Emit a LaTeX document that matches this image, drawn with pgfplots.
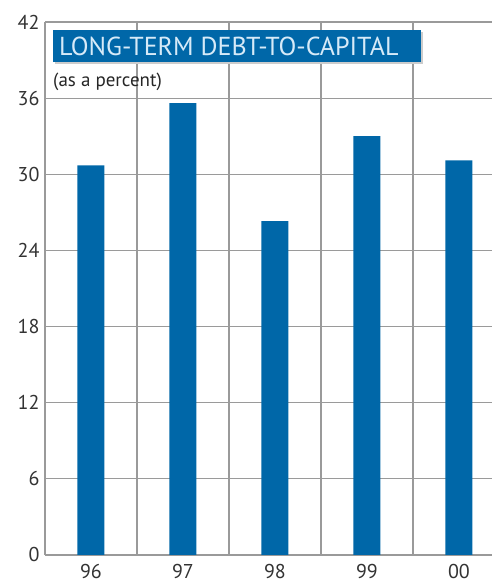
\documentclass[border=0pt]{standalone}
\usepackage{fontspec}
\setmainfont{PT Sans}
\usepackage{pgfplots}
\pgfplotsset{compat=1.18}
\definecolor{barblue}{HTML}{0067A8}
\definecolor{gridgray}{HTML}{9A9A9A}
\definecolor{titletext}{HTML}{D6EAF8}
\begin{document}
\begin{tikzpicture}[x=1pt,y=1pt]
\useasboundingbox (0,0) rectangle (492,588);
\begin{axis}[
  at={(45pt,33pt)}, anchor=south west,
  scale only axis, width=447pt, height=533pt,
  xmin=-0.5, xmax=4.359, ymin=0, ymax=42,
  axis x line*=bottom, axis y line*=left,
  axis line style={gridgray, line width=1.2pt, -},
  xtick={0,1,2,3,4}, xticklabels={96,97,98,99,00},
  minor xtick={0.5,1.5,2.5,3.5},
  ytick={0,6,...,42},
  major tick length=0pt, minor tick length=0pt,
  ymajorgrids, xminorgrids,
  grid style={gridgray, line width=1.2pt},
  minor grid style={gridgray, line width=1.2pt},
  tick label style={font=\fontsize{20}{22}\selectfont, text=black!80},
  /pgf/number format/assume math mode=true,
  yticklabel style={xshift=-2pt},
  xticklabel style={yshift=-6pt},
  clip=false,
]
\addplot[ybar, bar width=27pt, fill=barblue, draw=none] coordinates {
  (0,30.7) (1,35.6) (2,26.3) (3,33.0) (4,31.1)
};
\end{axis}
\fill[black!20] (55,524) rectangle (423,556);
\fill[barblue] (53,526) rectangle (421,558);
\node[anchor=west, inner sep=0pt, text=titletext, font=\fontsize{26}{28}\selectfont] at (59,542) {LONG-TERM DEBT-TO-CAPITAL};
\node[anchor=west, inner sep=0pt, font=\fontsize{19}{21}\selectfont, text=black!85] at (53,506) {(as a percent)};
\end{tikzpicture}
\end{document}
